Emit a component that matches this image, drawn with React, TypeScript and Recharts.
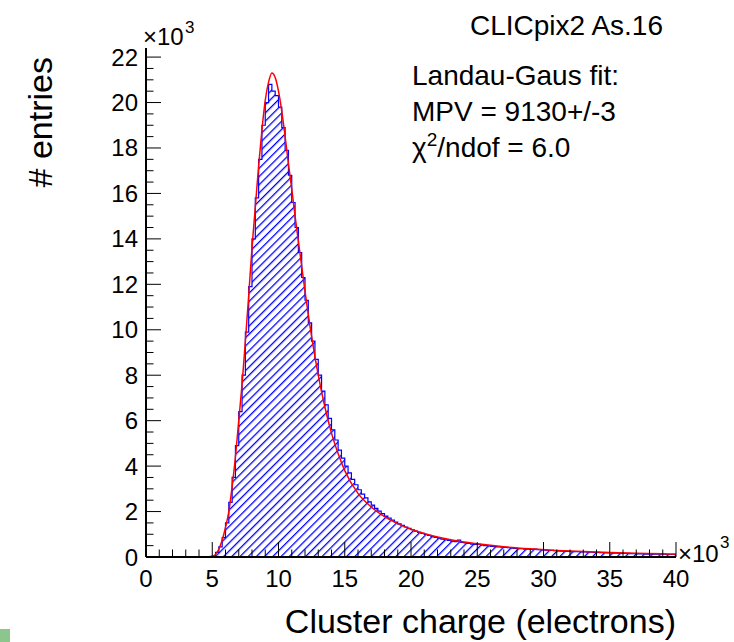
import React from 'react';
import { ComposedChart, Area, Line, XAxis, YAxis } from 'recharts';

// cluster charge histogram, 0.25k electron bins from 0 to 40k (entries in 10^3)
const BIN_WIDTH = 0.25;
const binCounts = [
  0, 0, 0, 0, 0, 0, 0, 0, 0, 0, 0, 0, 0, 0, 0, 0, 0, 0, 0, 0.01,
  0.05, 0.2, 0.45, 0.85, 1.5, 2.4, 3.5, 4.9, 6.4, 8.0, 9.9, 11.9, 14.0, 15.8, 17.5, 19.0,
  20.0, 20.8, 20.5, 20.3, 19.8, 18.9, 17.9, 16.8, 15.6, 14.5, 13.4, 12.3,
  11.3, 10.3, 9.5, 8.7, 8.0, 7.3, 6.7, 6.1, 5.6, 5.15, 4.7, 4.35,
  4.0, 3.7, 3.42, 3.18, 2.96, 2.77, 2.6, 2.43, 2.28, 2.14, 2.02, 1.91,
  1.8, 1.71, 1.62, 1.54, 1.46, 1.39, 1.32, 1.26, 1.2, 1.14, 1.08, 1.04,
  0.99, 0.95, 0.9, 0.86, 0.83, 0.79, 0.76, 0.73, 0.7, 0.68, 0.74, 0.64,
  0.62, 0.6, 0.57, 0.56, 0.56, 0.52, 0.5, 0.49, 0.47, 0.46, 0.44, 0.43,
  0.42, 0.41, 0.39, 0.38, 0.37, 0.37, 0.35, 0.34, 0.33, 0.35, 0.32, 0.31,
  0.3, 0.29, 0.29, 0.28, 0.27, 0.26, 0.26, 0.25, 0.24, 0.24, 0.23, 0.22,
  0.22, 0.21, 0.21, 0.2, 0.2, 0.19, 0.19, 0.18, 0.18, 0.17, 0.17, 0.16,
  0.16, 0.16, 0.15, 0.15, 0.14, 0.14, 0.14, 0.13, 0.13, 0.13, 0.12, 0.12,
  0.12, 0.11, 0.11, 0.11, 0.1, 0.1, 0.1, 0.09,
];

// Landau-Gauss fit curve (k electrons -> 10^3 entries)
const fitX = [0, 4.5, 5.0, 5.5, 5.75, 6.0, 6.25, 6.5, 6.75, 7.0, 7.25, 7.5, 7.75, 8.0, 8.25, 8.5, 8.75, 9.0, 9.25, 9.5, 9.75, 10.0, 10.25, 10.5, 10.75, 11.0, 11.25, 11.5, 11.75, 12.0, 12.5, 13.0, 13.5, 14.0, 14.5, 15.0, 16.0, 17.0, 18.0, 19.0, 20.0, 21.0, 22.0, 23.0, 24.0, 25.0, 27.0, 29.0, 31.0, 33.0, 35.0, 37.0, 39.0, 40.0];
const fitY = [0, 0, 0.03, 0.35, 0.75, 1.3, 2.0, 3.1, 4.4, 6.0, 7.6, 9.5, 11.5, 13.6, 15.4, 17.2, 18.8, 20.1, 20.9, 21.3, 21.1, 20.5, 19.6, 18.5, 17.3, 16.2, 15.0, 13.9, 12.8, 11.7, 9.7, 8.0, 6.6, 5.45, 4.55, 3.8, 2.8, 2.2, 1.78, 1.47, 1.22, 1.03, 0.88, 0.76, 0.66, 0.58, 0.45, 0.36, 0.29, 0.24, 0.2, 0.17, 0.14, 0.13];

const xMajor = [0, 5, 10, 15, 20, 25, 30, 35, 40];
const yMajor = [0, 2, 4, 6, 8, 10, 12, 14, 16, 18, 20, 22];

const W = 734;
const H = 642;
const LEFT = 146;
const TOP = 48;
const RIGHT = 676;
const BOTTOM = 557;
const FONT = '"Liberation Sans", Arial, Helvetica, sans-serif';

const histData = [
  ...binCounts.map((v, i) => ({ x: i * BIN_WIDTH, y: v })),
  { x: 40, y: binCounts[binCounts.length - 1] },
];
const fitData = fitX.map((x, i) => ({ x, y: fitY[i] }));

const xTicks = Array.from({ length: 41 }, (_, i) => i);
const yTicks = Array.from({ length: 45 }, (_, i) => i * 0.5);

function BottomTick({ x, payload }: any) {
  const major = xMajor.includes(payload.value);
  return (
    <g>
      <line x1={x} x2={x} y1={BOTTOM} y2={BOTTOM - (major ? 15 : 7.5)} stroke="#000" strokeWidth={1} />
      {major && (
        <text x={x} y={BOTTOM + 30} textAnchor="middle" fontSize={24} fontFamily={FONT} fill="#000">
          {payload.value}
        </text>
      )}
    </g>
  );
}

function TopTick({ x, payload }: any) {
  const major = xMajor.includes(payload.value);
  return <line x1={x} x2={x} y1={TOP} y2={TOP + (major ? 15 : 7.5)} stroke="#000" strokeWidth={1} />;
}

function LeftTick({ y, payload }: any) {
  const major = yMajor.includes(payload.value);
  return (
    <g>
      <line x1={LEFT} x2={LEFT + (major ? 15 : 7.5)} y1={y} y2={y} stroke="#000" strokeWidth={1} />
      {major && (
        <text x={LEFT - 8} y={y + 8.5} textAnchor="end" fontSize={24} fontFamily={FONT} fill="#000">
          {payload.value}
        </text>
      )}
    </g>
  );
}

function RightTick({ y, payload }: any) {
  const major = yMajor.includes(payload.value);
  return <line x1={RIGHT} x2={RIGHT - (major ? 15 : 7.5)} y1={y} y2={y} stroke="#000" strokeWidth={1} />;
}

export default function App() {
  return (
    <div style={{ position: 'absolute', left: 0, top: 0, width: W, height: H, background: '#fff' }}>
      <svg width={0} height={0} style={{ position: 'absolute' }}>
        <defs>
          <pattern id="hatch" patternUnits="userSpaceOnUse" width={5.8} height={20} patternTransform="rotate(45)">
            <rect x={0} y={0} width={1.3} height={20} fill="#0000ff" />
          </pattern>
        </defs>
      </svg>
      <ComposedChart width={W} height={H} margin={{ top: TOP, right: W - RIGHT, bottom: 0, left: 0 }}>
        <XAxis
          xAxisId="b" dataKey="x" type="number" domain={[0, 40]} ticks={xTicks} interval={0}
          height={H - BOTTOM} tickLine={false} axisLine={{ stroke: '#000', strokeWidth: 2 }}
          tick={(p: any) => <BottomTick {...p} />} allowDataOverflow
        />
        <XAxis
          xAxisId="t" orientation="top" type="number" domain={[0, 40]} ticks={xTicks} interval={0}
          height={0} tickLine={false} axisLine={{ stroke: '#000', strokeWidth: 2 }}
          tick={(p: any) => <TopTick {...p} />} allowDataOverflow
        />
        <YAxis
          yAxisId="l" type="number" domain={[0, 22.4]} ticks={yTicks} interval={0}
          width={LEFT} tickLine={false} axisLine={{ stroke: '#000', strokeWidth: 2 }}
          tick={(p: any) => <LeftTick {...p} />} allowDataOverflow
        />
        <YAxis
          yAxisId="r" orientation="right" type="number" domain={[0, 22.4]} ticks={yTicks} interval={0}
          width={0} tickLine={false} axisLine={{ stroke: '#000', strokeWidth: 2 }}
          tick={(p: any) => <RightTick {...p} />} allowDataOverflow
        />
        <Area
          xAxisId="b" yAxisId="l" data={histData} dataKey="y" type="stepAfter"
          stroke="#0000ff" strokeWidth={1.2} fill="url(#hatch)" fillOpacity={1}
          isAnimationActive={false} dot={false} activeDot={false}
        />
        <Line
          xAxisId="b" yAxisId="l" data={fitData} dataKey="y" type="monotone"
          stroke="#ff0000" strokeWidth={1.5} dot={false} activeDot={false} isAnimationActive={false}
        />
      </ComposedChart>
      <svg width={W} height={H} style={{ position: 'absolute', left: 0, top: 0, pointerEvents: 'none' }}>
        <g fontFamily={FONT} fill="#000">
          <text x={663} y={35} textAnchor="end" fontSize={28}>CLICpix2 As.16</text>
          <text x={412} y={85} fontSize={28}>Landau-Gaus fit:</text>
          <text x={412} y={121} fontSize={28}>MPV = 9130+/-3</text>
          <text x={412} y={157} fontSize={28}>
            χ<tspan fontSize={19} dy={-11}>2</tspan><tspan dy={11}>/ndof = 6.0</tspan>
          </text>
          <text x={143} y={45} fontSize={24}>×10</text>
          <text x={185} y={33} fontSize={17}>3</text>
          <text x={678} y={562} fontSize={24}>×10</text>
          <text x={720} y={548} fontSize={17}>3</text>
          <text x={RIGHT} y={633} textAnchor="end" fontSize={34}>Cluster charge (electrons)</text>
          <text transform="translate(52,57) rotate(-90)" textAnchor="end" fontSize={34}># entries</text>
        </g>
        <rect x={0} y={629} width={10} height={13} fill="#8cc68c" />
      </svg>
    </div>
  );
}
